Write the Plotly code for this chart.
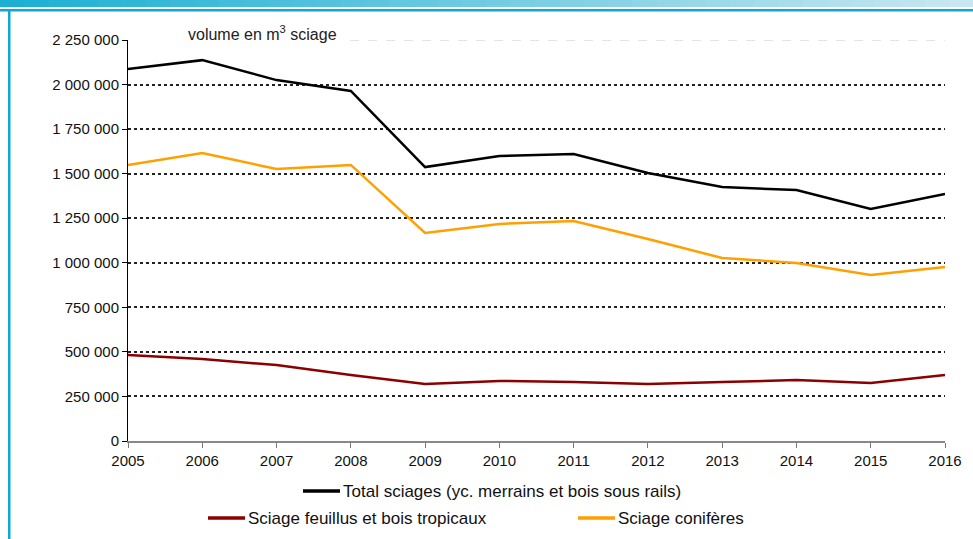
import plotly.graph_objects as go

years = [2005, 2006, 2007, 2008, 2009, 2010, 2011, 2012, 2013, 2014, 2015, 2016]
total = [2087000, 2137000, 2025000, 1964000, 1537000, 1599000, 1610000, 1504000, 1425000, 1408000, 1302000, 1386000]
coniferes = [1549000, 1616000, 1526000, 1549000, 1167000, 1218000, 1234000, 1133000, 1027000, 999000, 931000, 976000]
feuillus = [483000, 460000, 426000, 370000, 320000, 337000, 331000, 320000, 331000, 342000, 325000, 370000]
ytick_vals = [0, 250000, 500000, 750000, 1000000, 1250000, 1500000, 1750000, 2000000, 2250000]
grid_vals = [250000, 500000, 750000, 1000000, 1250000, 1500000, 1750000, 2000000]

names = ["Total sciages (yc. merrains et bois sous rails)",
         "Sciage feuillus et bois tropicaux",
         "Sciage conifères"]
colors = ["#000000", "#8b0000", "#ff9f00"]

W, H = 973, 539
ML, MR, MT, MB = 128, 28, 40, 98
PW, PH = W - ML - MR, H - MT - MB


def px(p):
    return (p - ML) / PW


def py(q):
    return (H - MB - q) / PH


fig = go.Figure()
for name, vals, col in zip(names, [total, feuillus, coniferes], colors):
    fig.add_trace(go.Scatter(x=years, y=vals, mode="lines", name=name,
                             line=dict(color=col, width=2.5), yaxis="y2",
                             showlegend=False, hoverinfo="skip"))

shapes = []
# header gradient bar
n = 40
c0 = (0x1b, 0xb0, 0xd2)
c1 = (0xc8, 0xe7, 0xf1)
for i in range(n):
    t = i / (n - 1)
    c = tuple(int(round(c0[k] + (c1[k] - c0[k]) * t)) for k in range(3))
    shapes.append(dict(type="rect", xref="paper", yref="paper",
                       x0=px(W * i / n), x1=px(W * (i + 1) / n + 1),
                       y0=py(0), y1=py(7), line=dict(width=0),
                       fillcolor="rgb(%d,%d,%d)" % c, layer="above"))
shapes.append(dict(type="rect", xref="paper", yref="paper", x0=px(0), x1=px(W),
                   y0=py(9), y1=py(11.5), line=dict(width=0), fillcolor="#0fa8d2"))
shapes.append(dict(type="rect", xref="paper", yref="paper", x0=px(8), x1=px(10.5),
                   y0=py(9), y1=py(H), line=dict(width=0), fillcolor="#0fa8d2"))
# top light dashed gridline
shapes.append(dict(type="line", xref="paper", yref="y", x0=px(350), x1=1,
                   y0=2250000, y1=2250000, layer="below",
                   line=dict(color="#c8c8c8", width=1, dash="dash")))

annotations = [dict(text="volume en m<sup>3</sup> sciage", x=px(186), y=py(33),
                    xref="paper", yref="paper", xanchor="left", yanchor="middle",
                    showarrow=False, font=dict(size=16, color="#222"))]

# manual legend
leg_font = dict(size=17, color="#111", family="Liberation Sans Narrow, Liberation Sans")
leg = [(names[0], colors[0], 303, 340, 491),
       (names[1], colors[1], 208, 245, 518),
       (names[2], colors[2], 578, 615, 518)]
for name, col, x0, x1, yy in leg:
    shapes.append(dict(type="line", xref="paper", yref="paper", x0=px(x0), x1=px(x1),
                       y0=py(yy), y1=py(yy), line=dict(color=col, width=3.5)))
    annotations.append(dict(text=name, x=px(x1 + 1), y=py(yy), xref="paper", yref="paper",
                            xanchor="left", yanchor="middle", showarrow=False,
                            font=leg_font))

fig.update_layout(
    width=W, height=H,
    margin=dict(l=ML, r=MR, t=MT, b=MB),
    paper_bgcolor="white", plot_bgcolor="white",
    font=dict(family="Liberation Sans, Arial", size=11, color="#111"),
    separators=", ",
    xaxis=dict(range=[2005, 2016], tickvals=years, ticks="outside", ticklen=5,
               tickcolor="#777", showline=True, linecolor="#888", linewidth=1.5,
               showgrid=False, zeroline=False, tickfont=dict(size=15)),
    yaxis=dict(range=[0, 2250000], tickvals=ytick_vals, tickformat=",d",
               ticks="outside", ticklen=5, tickcolor="#000", showline=True,
               linecolor="#000", linewidth=1, showgrid=False, zeroline=False,
               tickfont=dict(size=15)),
    yaxis2=dict(range=[0, 2250000], overlaying="y", tickvals=grid_vals,
                showticklabels=False, showgrid=True, gridcolor="#222",
                griddash="dot", gridwidth=1.5, zeroline=False, showline=False),
    shapes=shapes, annotations=annotations,
)

fig.write_html("out.html", config={"displayModeBar": False},
               post_script="document.body.style.margin='0';")
